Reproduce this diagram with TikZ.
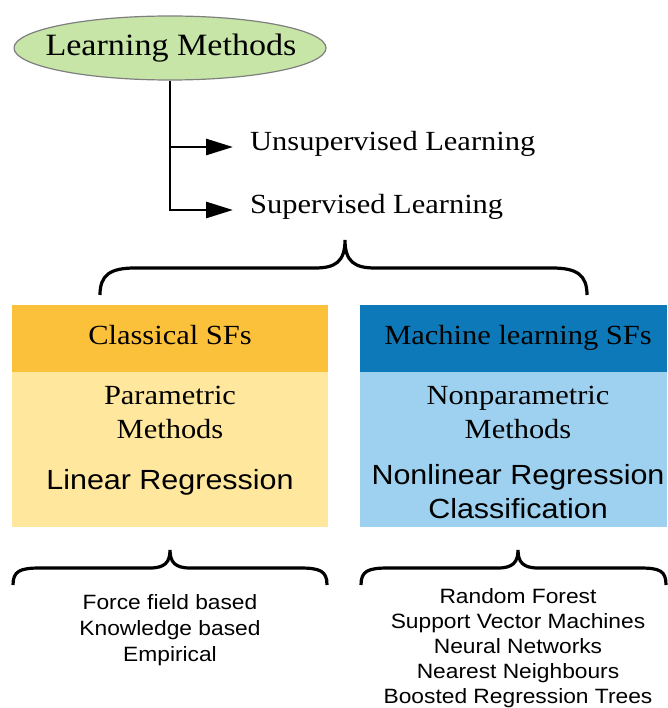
\documentclass[tikz,border=0pt]{standalone}
\usepackage{fontspec}
\setmainfont{Liberation Serif}[FakeStretch=1.1]
\newfontfamily\sansf{Liberation Sans}[FakeStretch=1.1]
\usetikzlibrary{shapes.geometric,arrows.meta}
\definecolor{lmgreen}{HTML}{C6E5A7}
\definecolor{lmborder}{HTML}{7F7F7F}
\definecolor{clhead}{HTML}{FBC13B}
\definecolor{clbody}{HTML}{FFE79D}
\definecolor{mlhead}{HTML}{0E79B9}
\definecolor{mlbody}{HTML}{9ED1F0}
\tikzset{
  serift/.style={font=\fontsize{27.7}{34}\selectfont, inner sep=0pt, anchor=base},
  bigsans/.style={font=\sansf\fontsize{27.7}{34}\selectfont, inner sep=0pt, anchor=base},
  smallsans/.style={font=\sansf\fontsize{20.7}{25}\selectfont, inner sep=0pt, anchor=base},
  panel/.style={rectangle, draw=none, inner sep=0pt, anchor=north west},
  conn/.style={line width=2.8pt, -{Triangle[length=27pt,width=16pt]}},
  bracestyle/.style={line width=3.2pt}
}
\begin{document}
\begin{tikzpicture}[x=1pt,y=-1pt]
\useasboundingbox (0,0) rectangle (667,708);
% top ellipse
\node[ellipse, draw=lmborder, fill=lmgreen, line width=1.2pt, minimum width=312pt, minimum height=64pt, inner sep=0pt] (lm) at (170,48) {};
\node[serift, font=\fontsize{31}{36}\selectfont] (lmt) at (171,56) {Learning Methods};
% branch
\coordinate (j1) at (170,147);
\coordinate (t1) at (233,147);
\coordinate (t2) at (233,210);
\draw[conn] (lm.south) |- (t2);
\draw[conn] (j1) -- (t1);
\node[serift, anchor=base west] (uns) at (250,151) {Unsupervised Learning};
\node[serift, anchor=base west] (sup) at (250,214) {Supervised Learning};
% big brace
\draw[bracestyle] (100,295) .. controls (100,275) and (110,268) .. (135,268) -- (315,268) .. controls (335,268) and (345,262) .. (345,240) .. controls (345,262) and (355,268) .. (375,268) -- (552,268) .. controls (577,268) and (587,275) .. (587,295);
% panels
\node[panel, fill=clhead, minimum width=316pt, minimum height=67pt] (clh) at (12,305) {};
\node[panel, fill=clbody, minimum width=316pt, minimum height=155pt] (clb) at (12,372) {};
\node[panel, fill=mlhead, minimum width=307pt, minimum height=67pt] (mlh) at (360,305) {};
\node[panel, fill=mlbody, minimum width=307pt, minimum height=155pt] (mlb) at (360,372) {};
\node[serift] (clt) at (170,344) {Classical SFs};
\node[serift] (mlt) at (518,344) {Machine learning SFs};
\node[serift] (cl1) at (170,404) {Parametric};
\node[serift] (cl2) at (170,438) {Methods};
\node[bigsans] (cl3) at (170,489) {Linear Regression};
\node[serift] (ml1) at (518,404) {Nonparametric};
\node[serift] (ml2) at (518,438) {Methods};
\node[bigsans] (ml3) at (518,484) {Nonlinear Regression};
\node[bigsans] (ml4) at (518,518) {Classification};
% lower braces
\draw[bracestyle] (13,585) .. controls (13,571) and (20,568) .. (40,568) -- (150,568) .. controls (165,568) and (170,562) .. (170,550) .. controls (170,562) and (175,568) .. (190,568) -- (300,568) .. controls (320,568) and (327,571) .. (327,585);
\draw[bracestyle] (361,585) .. controls (361,571) and (368,568) .. (388,568) -- (498,568) .. controls (513,568) and (518,562) .. (518,550) .. controls (518,562) and (523,568) .. (538,568) -- (640,568) .. controls (660,568) and (666,571) .. (666,585);
% lower texts
\node[smallsans] (f1) at (170,609) {Force field based};
\node[smallsans] (f2) at (170,635) {Knowledge based};
\node[smallsans] (f3) at (170,661) {Empirical};
\node[smallsans] (m1) at (518,603) {Random Forest};
\node[smallsans] (m2) at (518,628) {Support Vector Machines};
\node[smallsans] (m3) at (518,653) {Neural Networks};
\node[smallsans] (m4) at (518,678) {Nearest Neighbours};
\node[smallsans] (m5) at (518,703) {Boosted Regression Trees};
\end{tikzpicture}
\end{document}
